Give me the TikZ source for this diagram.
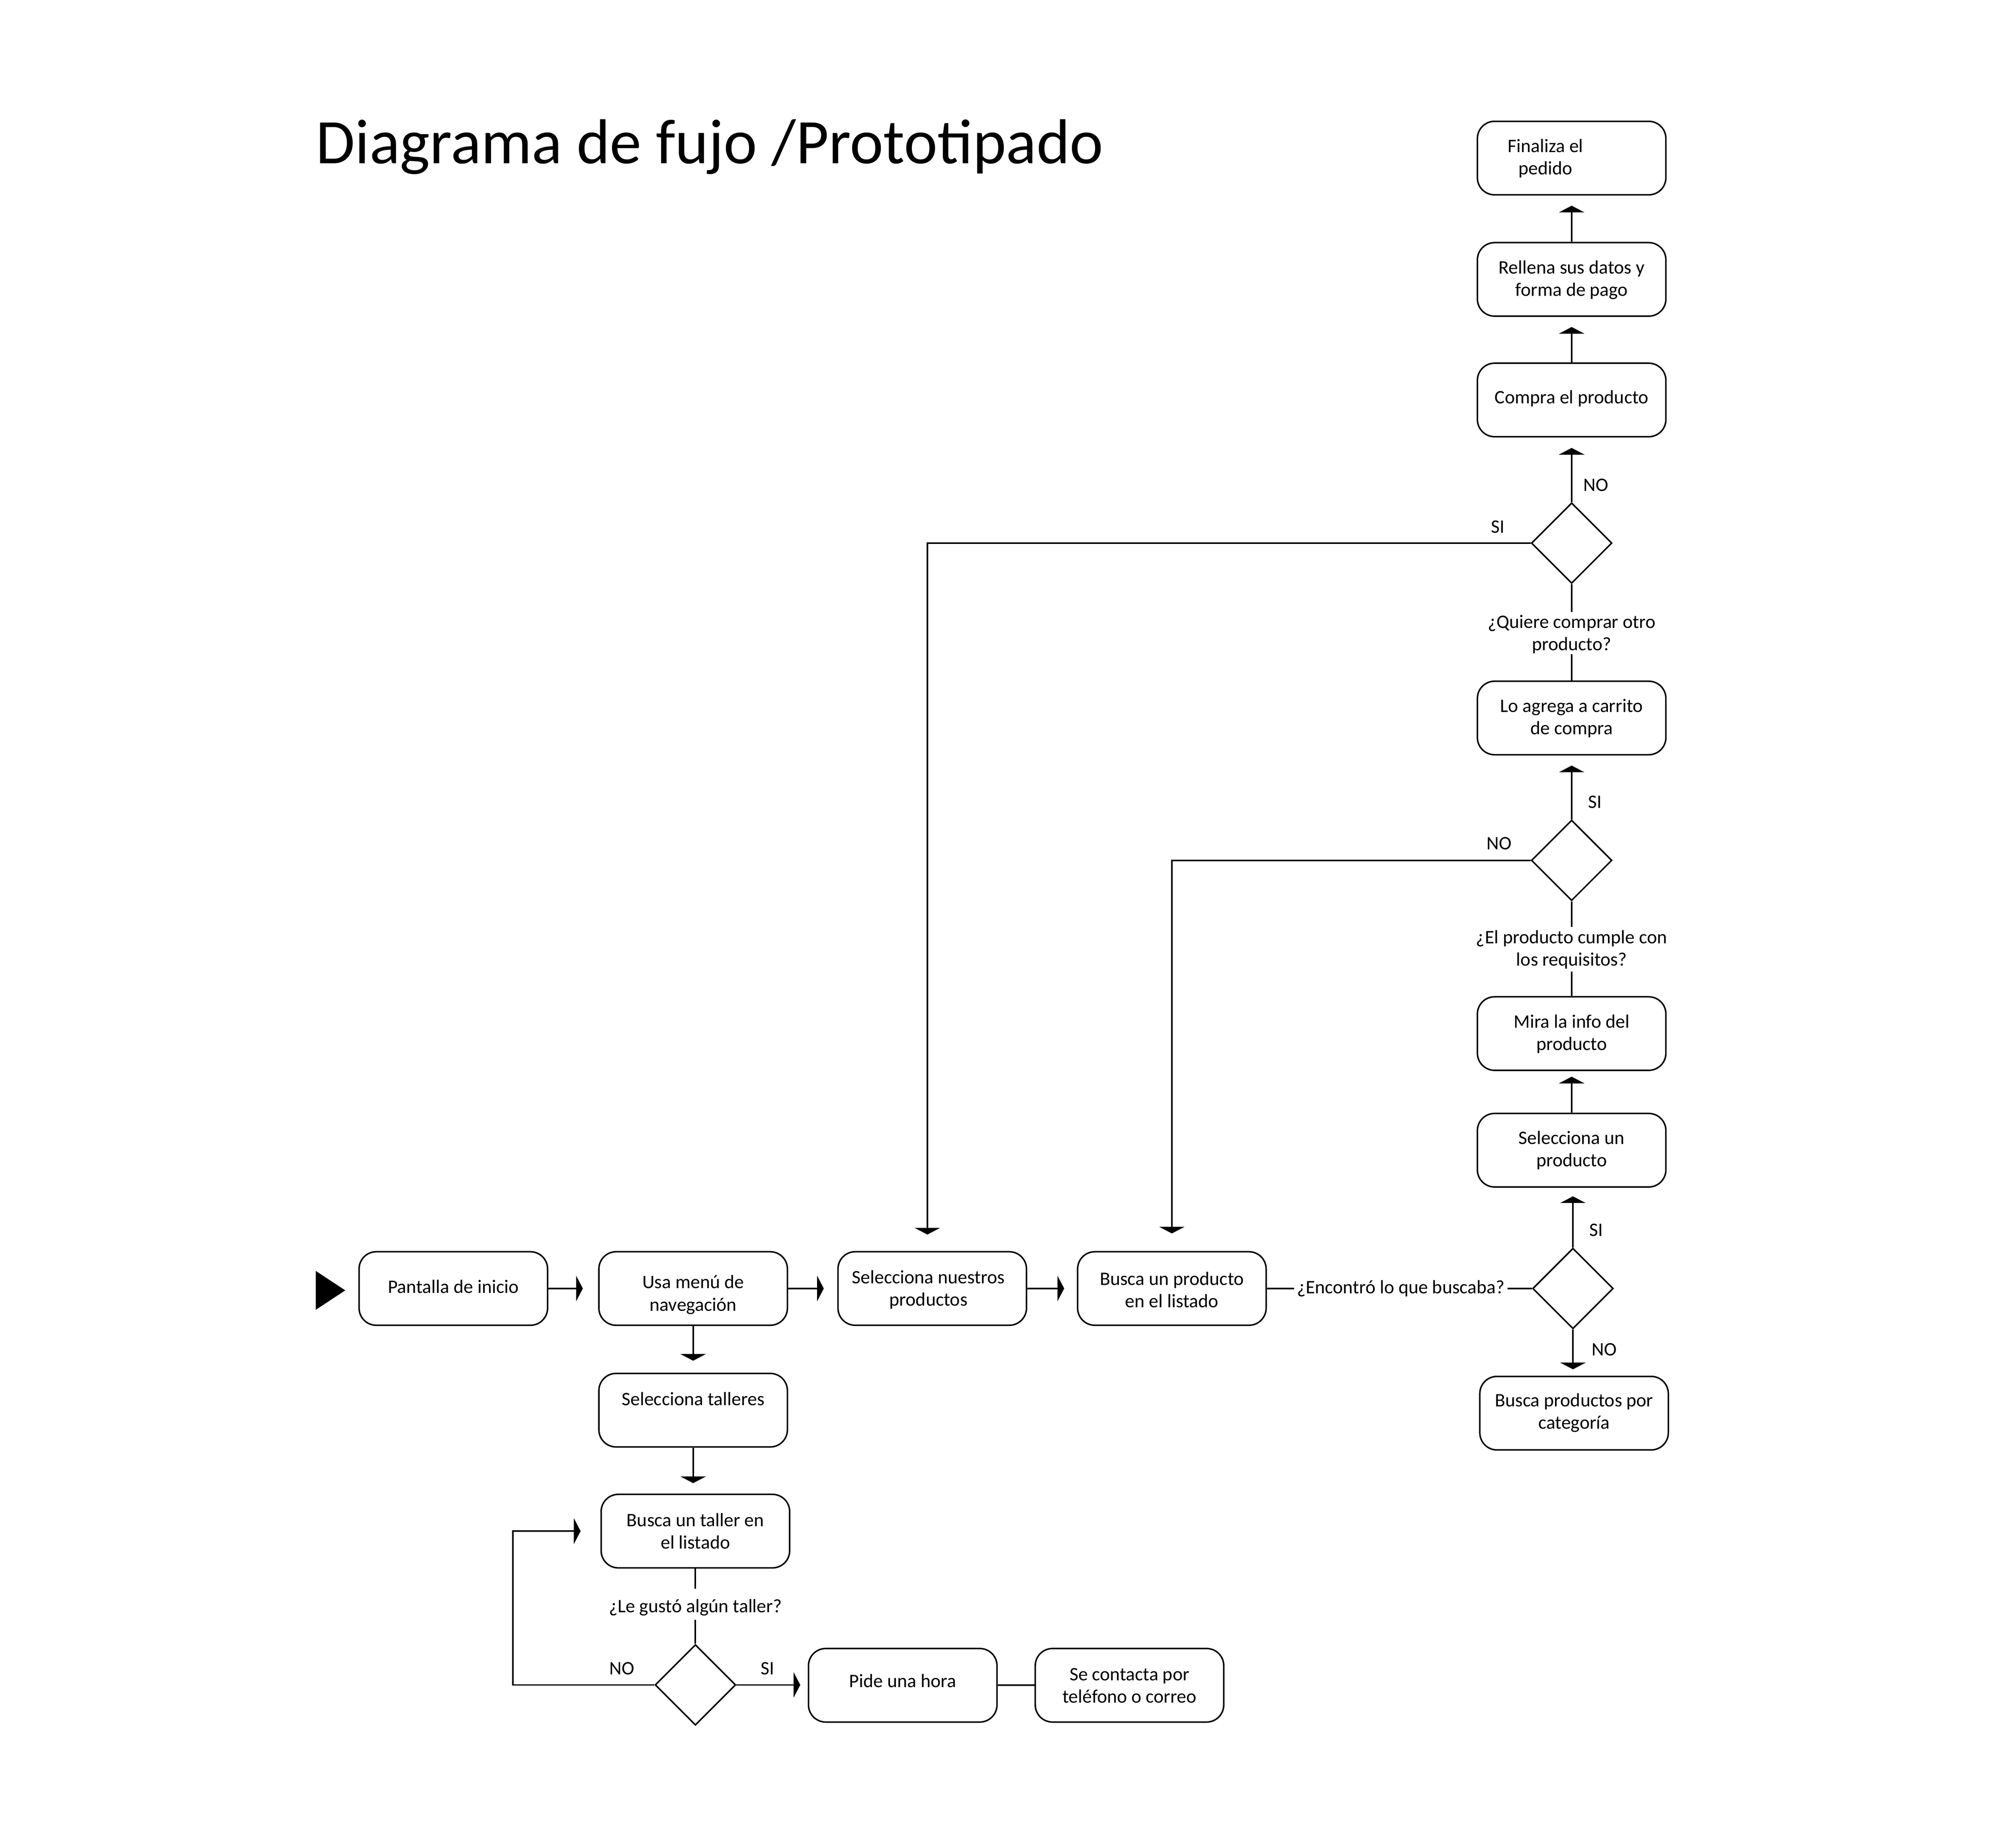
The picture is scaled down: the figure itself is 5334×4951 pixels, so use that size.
\documentclass[tikz,border=0pt]{standalone}
\usepackage{fontspec}
\setmainfont{Carlito}
\usetikzlibrary{arrows.meta,shapes.geometric}
\newcommand{\twol}[2]{\begin{tabular}[t]{@{}c@{}}#1\\#2\end{tabular}}
\begin{document}
\begin{tikzpicture}[x=0.2pt,y=-0.2pt,
  every node/.style={font=\fontsize{10.2pt}{12pt}\selectfont},
  box/.style={draw, rounded corners=9.2pt, line width=0.8pt, minimum width=101pt, minimum height=39.4pt, inner sep=0pt, text height=12pt},
  dia/.style={draw, diamond, line width=0.8pt, minimum width=43.2pt, minimum height=43.2pt, inner sep=0pt},
  arr/.style={line width=0.8pt, -{Triangle[length=3.6pt,width=13.6pt]}},
  ln/.style={line width=0.8pt},
  lab/.style={anchor=base west, inner sep=0pt},
  qtext/.style={anchor=base, fill=white, inner xsep=1.6pt, inner ysep=0pt},
]
\fill[white] (0,0) rectangle (5334,4951);
\useasboundingbox (0,0) rectangle (5334,4951);

% title
\node[anchor=base west, inner sep=0pt, font=\fontsize{34pt}{40pt}\selectfont] (title) at (846,438) {Diagrama de fujo /Prototipado};

% right column
\node[box, text depth=18.2pt] (fin) at (4210.5,423.5) {\begin{tabular}[t]{@{}c@{\hspace{28pt}}}Finaliza el\\pedido\end{tabular}};
\node[box, text depth=18pt] (rell) at (4210.5,748.5) {\twol{Rellena sus datos y}{forma de pago}};
\node[box, text depth=8.2pt] (comp) at (4210.5,1071.5) {Compra el producto};
\node[dia] (d1) at (4210.5,1455) {};
\node[box, text depth=18.2pt] (agr) at (4210.5,1923.5) {\twol{Lo agrega a carrito}{de compra}};
\node[dia] (d2) at (4210.5,2305) {};
\node[box, text depth=18pt] (mira) at (4210.5,2769) {\twol{Mira la info del}{producto}};
\node[box, text depth=18.6pt] (selp) at (4210.5,3081.5) {\twol{Selecciona un}{producto}};
\node[dia] (d3) at (4214,3452) {};
\node[box, text depth=19.2pt] (bcat) at (4217,3786) {\twol{Busca productos por}{categoría}};

% main row
\node[box, text depth=7pt] (pant) at (1214.5,3452) {Pantalla de inicio};
\node[box, text depth=12pt] (usa) at (1857,3452) {\twol{Usa menú de}{navegación}};
\node[box, text depth=17.2pt] (seln) at (2497.5,3452) {\begin{tabular}[t]{@{}c@{\hspace{4pt}}}Selecciona nuestros\\productos\end{tabular}};
\node[box, text depth=15.6pt] (busp) at (3139.5,3452) {\twol{Busca un producto}{en el listado}};

% talleres branch
\node[box, text depth=17.2pt] (selt) at (1857,3778) {Selecciona talleres};
\node[box, text depth=17.2pt] (bust) at (1863,4102) {\twol{Busca un taller en}{el listado}};
\node[dia] (d4) at (1863,4514) {};
\node[box, text depth=9.6pt] (pide) at (2418.5,4515) {Pide una hora};
\node[box, text depth=17.2pt] (cont) at (3026,4515) {\twol{Se contacta por}{teléfono o correo}};

% start marker
\fill (846,3405) -- (925,3457) -- (846,3509) -- cycle;

% connectors main row
\draw[arr, shorten >=8.2pt] (pant) -- (usa);
\draw[arr, shorten >=7.2pt] (usa) -- (seln);
\draw[arr, shorten >=6.8pt] (seln) -- (busp);
\draw[ln] (busp) -- (d3);
\node[qtext, text height=8pt, text depth=3pt] (q3) at (3753,3465) {¿Encontró lo que buscaba?};

% right column connectors
\draw[arr, shorten >=4.6pt] (d3.north) -- (d3.north |- selp.south);
\draw[arr, shorten >=3pt] (selp) -- (mira);
\draw[ln] (mira) -- (d2);
\node[qtext, text height=9pt, text depth=15pt] (q2) at (4210.5,2528) {\twol{¿El producto cumple con}{los requisitos?}};
\draw[arr, shorten >=5.4pt] (d2) -- (agr);
\draw[ln] (agr) -- (d1);
\node[qtext, text height=8.6pt, text depth=14pt] (q1) at (4210.5,1683) {\twol{¿Quiere comprar otro}{producto?}};
\draw[arr, shorten >=5.6pt] (d1) -- (comp);
\draw[arr, shorten >=5.4pt] (comp) -- (rell);
\draw[arr, shorten >=5.4pt] (rell) -- (fin);
\draw[arr, shorten >=8.8pt] (d1.west) -| ([xshift=-2.6pt]seln.north);
\draw[arr, shorten >=9.4pt] (d2.west) -| (busp.north);
\draw[arr, shorten >=3.4pt] (d3.south) -- (d3.south |- bcat.north);

% talleres connectors
\draw[arr, shorten >=6.4pt] (usa) -- (selt);
\draw[arr, shorten >=5.6pt] (selt.south) -- (selt.south |- bust.north);
\draw[ln] (bust) -- (d4);
\node[qtext, text height=12.8pt, text depth=4pt] (q4) at (1863,4320) {¿Le gustó algún taller?};
\coordinate (c4) at (1374,4102);
\draw[arr, shorten >=10.6pt] (d4.west) -| (c4) -- (bust.west);
\draw[arr, shorten >=4pt] (d4.east) -- (d4.east -| pide.west);
\draw[ln] (pide) -- (cont);

% decision labels
\node[lab] (l1no) at (4241,1316) {NO};
\node[lab] (l1si) at (3994,1428) {SI};
\node[lab] (l2si) at (4254,2165) {SI};
\node[lab] (l2no) at (3982,2276) {NO};
\node[lab] (l3si) at (4257,3312) {SI};
\node[lab] (l3no) at (4264,3632) {NO};
\node[lab] (l4no) at (1632,4486) {NO};
\node[lab] (l4si) at (2037,4486) {SI};
\end{tikzpicture}
\end{document}
